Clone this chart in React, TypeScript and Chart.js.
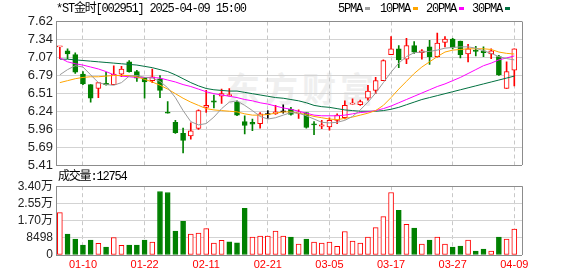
import React, { useEffect, useRef } from 'react';
import { Chart, registerables } from 'chart.js';
Chart.register(...registerables);

// ---------- data ----------
const dates = [
  '01-07','01-08','01-09','01-10','01-13','01-14','01-15','01-16','01-17','01-20',
  '01-21','01-22','01-23','01-24','01-27','02-05','02-06','02-07','02-10','02-11',
  '02-12','02-13','02-14','02-17','02-18','02-19','02-20','02-21','02-24','02-25',
  '02-26','02-27','02-28','03-03','03-04','03-05','03-06','03-07','03-10','03-11',
  '03-12','03-13','03-14','03-17','03-18','03-19','03-20','03-21','03-24','03-25',
  '03-26','03-27','03-28','03-31','04-01','04-02','04-03','04-07','04-08','04-09',
];
const opens = [
  7.23, 7.17, 7.11, 6.81, 6.65, 6.59, 6.67, 6.65, 6.81, 7.00,
  6.85, 6.75, 6.71, 6.74, 6.22, 6.07, 5.90, 5.86, 5.975, 6.30,
  6.40, 6.47, 6.48, 6.38, 6.08, 6.07, 6.05, 6.19, 6.20, 6.23,
  6.27, 6.21, 6.22, 6.04, 6.01, 6.00, 6.10, 6.14, 6.35, 6.34,
  6.44, 6.56, 6.71, 7.11, 7.20, 7.04, 7.25, 7.14, 7.23, 7.08,
  7.30, 7.35, 7.32, 7.12, 7.18, 7.17, 7.12, 7.08, 6.59, 6.87,
];
const highs = [
  7.24, 7.20, 7.14, 6.85, 6.65, 6.68, 6.84, 6.94, 6.93, 7.02,
  6.87, 6.76, 6.89, 6.79, 6.39, 6.10, 5.98, 6.06, 6.26, 6.56,
  6.49, 6.58, 6.59, 6.40, 6.17, 6.12, 6.22, 6.25, 6.33, 6.34,
  6.30, 6.26, 6.22, 6.08, 6.10, 6.14, 6.20, 6.40, 6.43, 6.41,
  6.64, 6.76, 7.03, 7.39, 7.25, 7.36, 7.31, 7.19, 7.33, 7.44,
  7.39, 7.36, 7.32, 7.27, 7.24, 7.23, 7.20, 7.10, 7.00, 7.20,
];
const lows = [
  7.05, 7.05, 6.82, 6.65, 6.38, 6.45, 6.64, 6.65, 6.77, 6.84,
  6.70, 6.44, 6.68, 6.45, 6.21, 5.90, 5.60, 5.81, 5.96, 6.22,
  6.29, 6.36, 6.47, 6.17, 5.89, 5.94, 5.98, 6.13, 6.19, 6.21,
  6.18, 6.13, 5.98, 5.88, 5.97, 5.95, 6.05, 6.12, 6.35, 6.33,
  6.41, 6.51, 6.71, 7.11, 6.91, 6.97, 7.13, 7.04, 6.96, 7.07,
  7.23, 7.20, 7.06, 7.00, 7.09, 7.08, 7.05, 6.79, 6.59, 6.63,
];
const closes = [
  7.24, 7.12, 6.84, 6.66, 6.44, 6.68, 6.65, 6.81, 6.89, 6.85,
  6.75, 6.69, 6.77, 6.56, 6.21, 5.91, 5.79, 5.94, 6.25, 6.33,
  6.38, 6.51, 6.49, 6.18, 6.02, 6.04, 6.20, 6.19, 6.23, 6.23,
  6.19, 6.22, 5.99, 6.03, 6.03, 6.10, 6.18, 6.33, 6.36, 6.39,
  6.55, 6.71, 7.02, 7.20, 7.03, 7.25, 7.15, 7.17, 7.08, 7.29,
  7.35, 7.22, 7.11, 7.20, 7.16, 7.14, 7.17, 6.80, 6.85, 7.20,
];
// black doji marks (open == close, flat)
const flatIdx = [27, 29];

const ma5 = [
  6.80, 6.88, 6.94, 6.92, 6.80, 6.68, 6.65, 6.64, 6.68, 6.78,
  6.79, 6.76, 6.75, 6.70, 6.60, 6.45, 6.25, 6.08, 6.03, 6.05,
  6.15, 6.28, 6.38, 6.40, 6.33, 6.25, 6.16, 6.12, 6.14, 6.18,
  6.22, 6.21, 6.17, 6.12, 6.07, 6.06, 6.07, 6.10, 6.16, 6.26,
  6.38, 6.52, 6.68, 6.84, 6.98, 7.08, 7.14, 7.15, 7.16, 7.18,
  7.21, 7.22, 7.23, 7.23, 7.21, 7.17, 7.13, 7.08, 7.05, 7.03,
];
const ma10 = [
  6.68, 6.71, 6.74, 6.76, 6.77, 6.77, 6.78, 6.79, 6.79, 6.79,
  6.77, 6.73, 6.69, 6.64, 6.58, 6.51, 6.44, 6.38, 6.33, 6.28,
  6.26, 6.25, 6.24, 6.23, 6.20, 6.18, 6.18, 6.19, 6.21, 6.23,
  6.23, 6.21, 6.19, 6.16, 6.14, 6.12, 6.11, 6.13, 6.15, 6.18,
  6.21, 6.25, 6.33, 6.45, 6.58, 6.70, 6.82, 6.92, 7.00, 7.08,
  7.15, 7.18, 7.19, 7.20, 7.20, 7.20, 7.19, 7.15, 7.13, 7.12,
];
const ma20 = [
  7.06, 7.00, 6.97, 6.95, 6.92, 6.89, 6.85, 6.80, 6.78, 6.77,
  6.76, 6.76, 6.76, 6.75, 6.72, 6.69, 6.65, 6.62, 6.58, 6.54,
  6.51, 6.49, 6.47, 6.45, 6.42, 6.40, 6.37, 6.35, 6.32, 6.29,
  6.27, 6.24, 6.21, 6.18, 6.17, 6.17, 6.17, 6.18, 6.20, 6.22,
  6.23, 6.25, 6.28, 6.32, 6.37, 6.42, 6.47, 6.52, 6.57, 6.62,
  6.66, 6.71, 6.76, 6.82, 6.88, 6.94, 6.98, 7.03, 7.06, 7.09,
];
const ma30 = [
  7.04, 7.04, 7.03, 7.02, 7.01, 7.00, 6.99, 6.98, 6.97, 6.96,
  6.95, 6.93, 6.91, 6.88, 6.85, 6.80, 6.74, 6.68, 6.63, 6.59,
  6.57, 6.56, 6.55, 6.55, 6.53, 6.51, 6.49, 6.47, 6.45, 6.44,
  6.42, 6.40, 6.37, 6.33, 6.31, 6.30, 6.28, 6.26, 6.25, 6.24,
  6.24, 6.24, 6.25, 6.27, 6.30, 6.34, 6.38, 6.42, 6.45, 6.48,
  6.51, 6.54, 6.57, 6.60, 6.63, 6.66, 6.69, 6.72, 6.75, 6.78,
];

const volumes = [
  20900, 10300, 7840, 4900, 7350, 5720, 3920, 8660, 4740, 4900,
  4900, 7350, 6370, 31370, 30880, 11770, 16670, 10290, 10780, 13070,
  5880, 7190, 6540, 6050, 23040, 8820, 9310, 9310, 11770, 9310,
  8820, 5390, 7840, 6370, 5880, 6370, 4250, 11600, 6860, 5880,
  8820, 13560, 18950, 30880, 22060, 15200, 13240, 5390, 7350, 8820,
  5390, 3920, 4410, 7350, 1960, 2940, 1960, 8820, 7840, 12754,
];
// 1 = red (up), 0 = green (down)
const volUp = [
  1, 0, 0, 0, 0, 1, 0, 1, 1, 0,
  0, 0, 1, 0, 0, 0, 0, 1, 1, 1,
  1, 1, 0, 0, 0, 1, 1, 1, 1, 1,
  0, 1, 0, 1, 1, 1, 1, 1, 1, 1,
  1, 1, 1, 1, 0, 1, 0, 1, 0, 1,
  1, 0, 0, 1, 0, 0, 1, 0, 1, 1,
];

const labelIdx = [3, 11, 19, 27, 35, 43, 51, 59];
const priceMin = 5.41;
const priceMax = 7.62;
const priceTickLabels = ['5.41', '5.69', '5.96', '6.24', '6.51', '6.79', '7.07', '7.34', '7.62'];
const volMax = 33992;
const volTickLabels = ['0', '8498', '1.70万', '2.55万', '3.40万'];

const titleText = '*ST金时[002951] 2025-04-09 15:00';
const volLabel = '成交量:12754';
const legendItems = [
  { name: '5PMA', color: '#a0a0a0' },
  { name: '10PMA', color: '#ffa500' },
  { name: '20PMA', color: '#ff00ff' },
  { name: '30PMA', color: '#007040' },
];

// ---------- styles ----------
const RED = '#ff0000';
const GREEN = '#008000';
const FRAME = '#8c8c8c';
const GRID = '#d3d3d3';
const VGRID = '#c8c8c8';

function candleColor(i: number) {
  if (flatIdx.includes(i)) return '#000000';
  return closes[i] >= opens[i] ? RED : GREEN;
}

export default function App() {
  const priceRef = useRef<HTMLCanvasElement>(null);
  const volRef = useRef<HTMLCanvasElement>(null);

  useEffect(() => {
    const n = dates.length;
    const xMin = -0.5;
    const xMax = n;
    const idx = dates.map((_, i) => i);
    const colors = idx.map(candleColor);
    const bodyBg = idx.map((i) => (colors[i] === RED ? '#ffffff' : colors[i]));
    const isEdge = (v: number) => v === xMin || v === xMax;

    const xScale = (showLabels: boolean, height: number) => ({
      type: 'linear' as const,
      offset: false,
      min: xMin,
      max: xMax,
      afterBuildTicks: (scale: any) => {
        scale.ticks = [xMin, ...labelIdx, xMax].map((v) => ({ value: v }));
      },
      afterFit: (scale: any) => {
        scale.height = height;
      },
      ticks: {
        display: showLabels,
        autoSkip: false,
        maxRotation: 0,
        padding: 3,
        color: RED,
        font: { family: 'Liberation Sans, Arial, sans-serif', size: 11 },
        callback: (v: any) => (isEdge(Number(v)) ? '' : dates[Number(v)] ?? ''),
      },
      grid: {
        color: (c: any) => (c.tick && isEdge(c.tick.value) ? FRAME : VGRID),
        drawTicks: false,
        lineWidth: 1,
        offset: false,
      },
      border: {
        display: false,
        dash: (c: any) => (c.tick && isEdge(c.tick.value) ? [] : [4, 3]),
      },
    });

    const yGridColor = (count: number) => (c: any) =>
      c.index === 0 || c.index === count - 1 ? FRAME : GRID;

    const lineDs = (label: string, arr: number[], color: string) => ({
      type: 'line',
      label,
      data: idx.map((i) => ({ x: i, y: arr[i] })),
      borderColor: color,
      borderWidth: 1,
      pointRadius: 0,
      tension: 0,
      order: 1,
    });

    const priceChart = new Chart(priceRef.current!, {
      type: 'bar',
      data: {
        datasets: [
          lineDs('MA5', ma5, '#9a9a9a'),
          lineDs('MA10', ma10, '#ffa500'),
          lineDs('MA20', ma20, '#ff00ff'),
          lineDs('MA30', ma30, '#007040'),
          {
            type: 'bar',
            label: 'body',
            data: idx.map((i) => ({ x: i, y: [opens[i], closes[i]] })),
            backgroundColor: bodyBg,
            borderColor: colors,
            borderWidth: 1,
            borderSkipped: false,
            barThickness: 5,
            minBarLength: 1,
            grouped: false,
            order: 2,
          },
          {
            type: 'bar',
            label: 'wick',
            data: idx.map((i) => ({ x: i, y: [lows[i], highs[i]] })),
            backgroundColor: colors,
            borderWidth: 0,
            barThickness: 1,
            grouped: false,
            order: 3,
          },
        ] as any,
      },
      options: {
        responsive: false,
        animation: false,
        devicePixelRatio: 1,
        layout: { padding: { left: 0, right: 56, top: 21.5, bottom: 0 } },
        plugins: { legend: { display: false }, tooltip: { enabled: false } },
        scales: {
          x: xScale(false, 10.5),
          y: {
            min: priceMin,
            max: priceMax,
            afterBuildTicks: (scale: any) => {
              scale.ticks = priceTickLabels.map((_, k) => ({
                value: priceMin + (k * (priceMax - priceMin)) / (priceTickLabels.length - 1),
              }));
            },
            afterFit: (scale: any) => {
              scale.width = 56;
            },
            ticks: {
              autoSkip: false,
              padding: 3,
              color: '#222222',
              font: { family: 'Liberation Sans, Arial, sans-serif', size: 13 },
              callback: (_v: any, k: number) => priceTickLabels[k],
            },
            grid: { color: yGridColor(priceTickLabels.length), drawTicks: false },
            border: { display: true, color: FRAME },
          },
        },
      } as any,
    });

    const volChart = new Chart(volRef.current!, {
      type: 'bar',
      data: {
        datasets: [
          {
            label: 'vol',
            data: idx.map((i) => ({ x: i, y: volumes[i] })),
            backgroundColor: idx.map((i) => (volUp[i] ? '#ffffff' : GREEN)),
            borderColor: idx.map((i) => (volUp[i] ? RED : GREEN)),
            borderWidth: 1,
            borderSkipped: false,
            barThickness: 5,
            grouped: false,
          },
        ] as any,
      },
      options: {
        responsive: false,
        animation: false,
        devicePixelRatio: 1,
        layout: { padding: { left: 0, right: 56, top: 10, bottom: 0 } },
        plugins: { legend: { display: false }, tooltip: { enabled: false } },
        scales: {
          x: xScale(true, 21),
          y: {
            min: 0,
            max: volMax,
            afterBuildTicks: (scale: any) => {
              scale.ticks = volTickLabels.map((_, k) => ({
                value: (k * volMax) / (volTickLabels.length - 1),
              }));
            },
            afterFit: (scale: any) => {
              scale.width = 56;
            },
            ticks: {
              autoSkip: false,
              padding: 3,
              color: '#222222',
              font: { family: 'Liberation Sans, Arial, "Noto Sans CJK SC", sans-serif', size: 12 },
              callback: (_v: any, k: number) => volTickLabels[k],
            },
            grid: { color: yGridColor(volTickLabels.length), drawTicks: false },
            border: { display: true, color: FRAME },
          },
        },
      } as any,
    });

    return () => {
      priceChart.destroy();
      volChart.destroy();
    };
  }, []);

  const monoFont = '"Liberation Mono", "Noto Sans CJK SC", monospace';
  const textStyle: React.CSSProperties = {
    position: 'absolute',
    fontFamily: monoFont,
    fontSize: 12,
    letterSpacing: -1.2,
    lineHeight: '14px',
    color: '#000',
    whiteSpace: 'nowrap',
  };

  return (
    <div
      style={{
        position: 'absolute',
        left: 0,
        top: 0,
        width: 578,
        height: 276,
        background: '#ffffff',
        overflow: 'hidden',
      }}
    >
      <div
        style={{
          position: 'absolute',
          left: 226,
          top: 68,
          fontFamily: '"Noto Sans CJK SC", sans-serif',
          fontSize: 34,
          fontWeight: 700,
          color: '#efefef',
          letterSpacing: 4,
          lineHeight: '40px',
          whiteSpace: 'nowrap',
        }}
      >
        东方财富
      </div>
      <canvas
        ref={priceRef}
        width={578}
        height={176}
        style={{ position: 'absolute', left: 0, top: 0, width: 578, height: 176 }}
      />
      <canvas
        ref={volRef}
        width={578}
        height={100}
        style={{ position: 'absolute', left: 0, top: 176, width: 578, height: 100 }}
      />
      <div style={{ ...textStyle, left: 56, top: 2 }}>{titleText}</div>
      {legendItems.map((it, k) => {
        const left = [338, 380, 426, 472][k];
        const w = it.name.length * 6;
        return (
          <React.Fragment key={it.name}>
            <div style={{ ...textStyle, left, top: 2 }}>{it.name}</div>
            <div
              style={{
                position: 'absolute',
                left: left + w + 3,
                top: 7,
                width: 5,
                height: 3,
                background: it.color,
              }}
            />
          </React.Fragment>
        );
      })}
      <div style={{ ...textStyle, left: 58, top: 170 }}>{volLabel}</div>
    </div>
  );
}
